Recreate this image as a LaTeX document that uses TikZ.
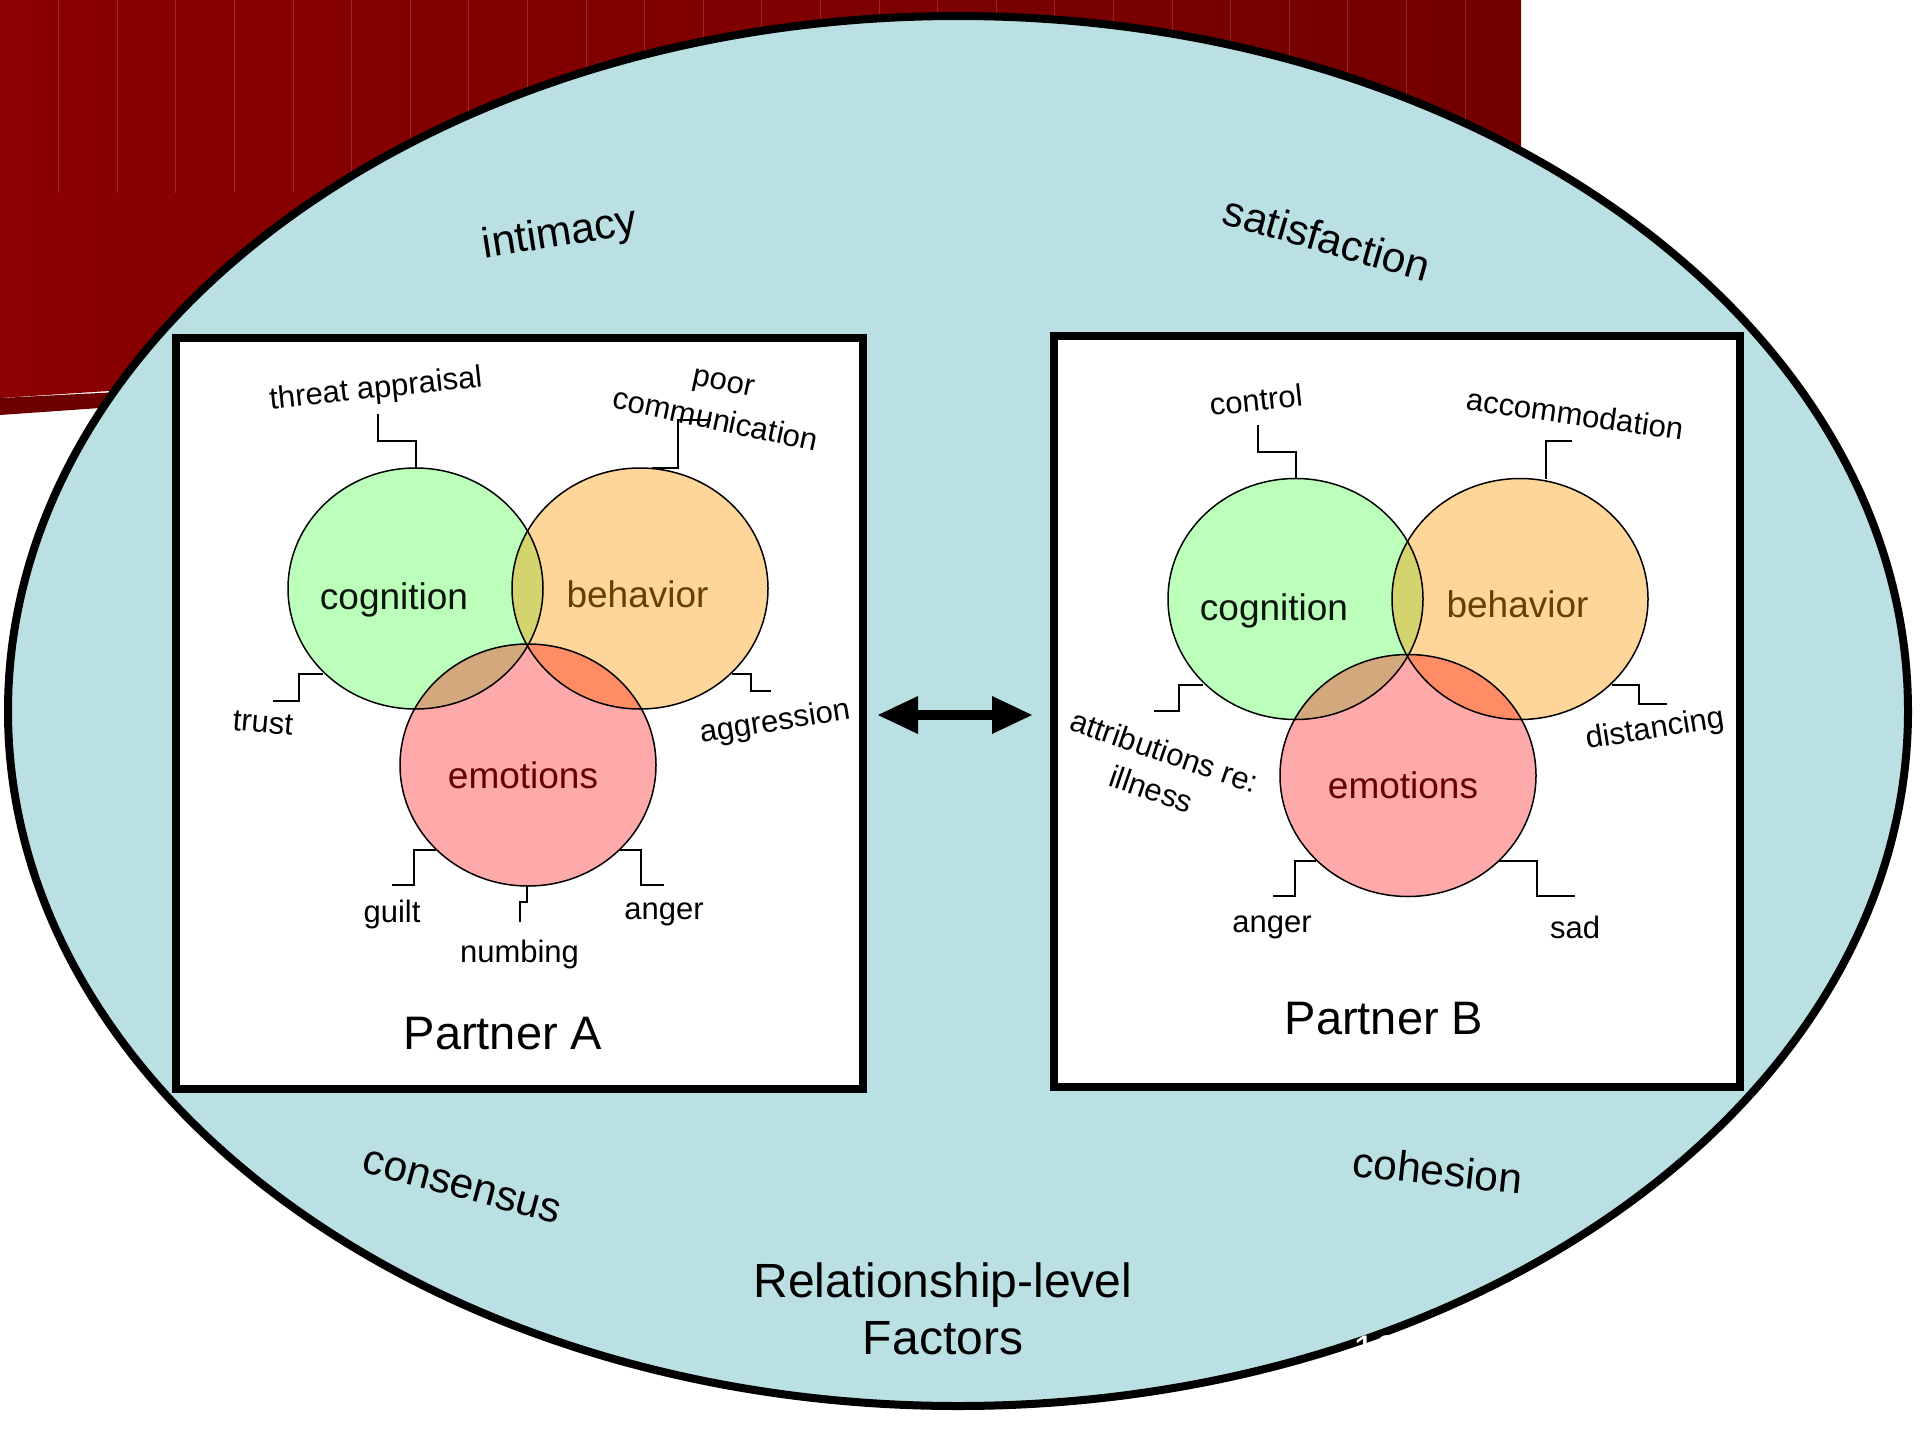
\documentclass[tikz,border=0pt]{standalone}
\usepackage{fontspec}
\setmainfont{Liberation Sans}
\usetikzlibrary{arrows.meta}

\definecolor{maroonL}{RGB}{139,0,0}
\definecolor{maroonR}{RGB}{114,0,0}
\definecolor{maroonBand}{RGB}{108,0,0}
\definecolor{paleblue}{RGB}{186,224,228}
\definecolor{cogfill}{RGB}{187,255,187}
\definecolor{behfill}{RGB}{255,214,153}
\definecolor{emofill}{RGB}{255,170,170}
\definecolor{cogbeh}{RGB}{212,212,110}
\definecolor{cogemo}{RGB}{210,168,124}
\definecolor{behemo}{RGB}{255,140,100}
\definecolor{triple}{RGB}{205,150,100}
\definecolor{cogtext}{RGB}{10,20,10}
\definecolor{behtext}{RGB}{102,64,0}
\definecolor{emotext}{RGB}{102,0,0}

% the three overlapping ovals of one partner panel (local coordinates)
\newcommand\vcog{(415.5,588.5) ellipse [x radius=127.5, y radius=120.5]}
\newcommand\vbeh{(640,588.5) ellipse [x radius=128, y radius=120.5]}
\newcommand\vemo{(528,765) ellipse [x radius=128, y radius=121]}
\newcommand\venntrio[1]{%
  \fill[cogfill] \vcog;
  \fill[behfill] \vbeh;
  \fill[emofill] \vemo;
  \begin{scope}\clip \vcog; \fill[cogbeh] \vbeh; \end{scope}
  \begin{scope}\clip \vcog; \fill[cogemo] \vemo; \end{scope}
  \begin{scope}\clip \vbeh; \fill[behemo] \vemo; \end{scope}
  \begin{scope}\clip \vcog; \clip \vbeh; \fill[triple] \vemo; \end{scope}
  \draw[vennline] \vcog;
  \draw[vennline] \vbeh;
  \draw[vennline] \vemo;
  \node[big, text=cogtext] (#1cog) at (394,600) {cognition};
  \node[big, text=behtext] (#1beh) at (637.5,594) {behavior};
  \node[big, text=emotext] (#1emo) at (523,775) {emotions};
}

\begin{document}
\begin{tikzpicture}[x=1pt,y=-1pt,
  lab/.style={font=\fontsize{31}{40}\selectfont, inner sep=0pt, align=center},
  big/.style={font=\fontsize{37}{44}\selectfont, inner sep=0pt},
  factor/.style={font=\fontsize{42.5}{50}\selectfont, inner sep=0pt},
  partner/.style={font=\fontsize{47}{56}\selectfont, inner sep=0pt},
  lead/.style={line width=2pt, line join=miter},
  vennline/.style={line width=1.5pt},
  panel/.style={draw, line width=8pt, fill=white, inner sep=0pt},
]
\useasboundingbox (0,0) rectangle (1920,1440);
\fill[white] (0,0) rectangle (1920,1440);

% dark red backdrop in the upper left
\shade[left color=maroonL, right color=maroonR] (0,0) -- (1521,0) -- (1521,300) -- (0,398) -- cycle;
\fill[maroonBand] (0,398) -- (300,383) -- (300,394) -- (0,415) -- cycle;
\foreach \k in {1,...,25}
  \draw[white, opacity=0.16, line width=1pt] (58.6*\k,0) -- (58.6*\k,193);

% relationship-level oval
\draw[line width=8pt, fill=paleblue] (958,711) ellipse [x radius=950, y radius=695];

\node[factor, rotate=9] (intimacy) at (560,235) {intimacy};
\node[factor, rotate=-16] (satisf) at (1327,238) {satisfaction};
\node[factor, rotate=-15] (consensus) at (462,1187) {consensus};
\node[factor, rotate=-6] (cohesion) at (1438,1170) {cohesion};
\node[font=\fontsize{48}{57}\selectfont, align=center, inner sep=0pt] (rel) at (943,1309)
  {Relationship-level\\Factors};

% partner panels
\node[panel, minimum width=687pt, minimum height=751pt] (boxA) at (519.5,713.5) {};
\node[panel, minimum width=686pt, minimum height=751pt] (boxB) at (1397,711.5) {};

\venntrio{A}
\begin{scope}[shift={(880,10.5)}]
  \venntrio{B}
\end{scope}

% Partner A labels
\node[lab, rotate=6] (threatA) at (376,390) {threat appraisal};
\node[lab, rotate=-12] (poorA) at (719.5,402) {poor\\communication};
\node[lab, rotate=-5] (trustA) at (263,723) {trust};
\node[lab, rotate=9] (aggrA) at (775,723) {aggression};
\node[lab] (guiltA) at (392,914) {guilt};
\node[lab] (numbA) at (519.5,954) {numbing};
\node[lab] (angerA) at (664,914) {anger};
\node[partner] (partA) at (503,1034) {Partner A};

% Partner B labels
\node[lab, rotate=6] (ctrlB) at (1256,400) {control};
\node[lab, rotate=-8] (accoB) at (1575,414) {accommodation};
\node[lab, rotate=-19] (attrB) at (1158,770) {attributions re:\\illness};
\node[lab, rotate=9] (distB) at (1655,730) {distancing};
\node[lab] (angerB) at (1272,927) {anger};
\node[lab] (sadB) at (1575,927) {sad};
\node[partner] (partB) at (1384,1019) {Partner B};

% leader lines, Partner A
\coordinate (tA1) at (378,414);  \coordinate (tA2) at (416,468);
\coordinate (pA1) at (711,420);  \coordinate (pA2) at (652,468);
\coordinate (trA1) at (273,701); \coordinate (trA2) at (323,674);
\coordinate (agA1) at (732,674); \coordinate (agA2) at (771,691);
\coordinate (gA1) at (392,885);  \coordinate (gA2) at (436,850);
\coordinate (nA1) at (527,886);  \coordinate (nA2) at (520,922);
\coordinate (aA1) at (619,850);  \coordinate (aA2) at (664,885);
\draw[lead] (tA1) -- ++(0,27) -| (tA2);
\draw[lead] (pA1) -- ++(-33,0) |- (pA2);
\draw[lead] (trA1) -- ++(26,0) |- (trA2);
\draw[lead] (agA1) -- ++(19,0) |- (agA2);
\draw[lead] (gA1) -- ++(22,0) |- (gA2);
\draw[lead] (nA1) -- ++(0,16) -| (nA2);
\draw[lead] (aA1) -- ++(22,0) |- (aA2);

% leader lines, Partner B
\coordinate (cB1) at (1258,425);  \coordinate (cB2) at (1296,479);
\coordinate (acB1) at (1572,441); \coordinate (acB2) at (1546,479);
\coordinate (atB1) at (1154,711); \coordinate (atB2) at (1203,685);
\coordinate (dB1) at (1612,685);  \coordinate (dB2) at (1667,704);
\coordinate (anB1) at (1273,896); \coordinate (anB2) at (1316,861);
\coordinate (sB1) at (1499,861);  \coordinate (sB2) at (1575,896);
\draw[lead] (cB1) -- ++(0,27) -| (cB2);
\draw[lead] (acB1) -| (acB2);
\draw[lead] (atB1) -- ++(25,0) |- (atB2);
\draw[lead] (dB1) -- ++(27,0) |- (dB2);
\draw[lead] (anB1) -- ++(22,0) |- (anB2);
\draw[lead] (sB1) -- ++(38,0) |- (sB2);

% mutual influence between the partners
\draw[line width=10pt,
      {Triangle[length=40pt,width=38pt,line width=0pt]}-{Triangle[length=40pt,width=38pt,line width=0pt]}]
  ([shift={(11,1.5)}]boxA.east) -- ([shift={(-18,3.5)}]boxB.west);

% slide number
\node[font=\fontsize{40}{48}\selectfont, text=white, anchor=base, inner sep=0pt] (slideno) at (1376,1363) {12};
\end{tikzpicture}
\end{document}
